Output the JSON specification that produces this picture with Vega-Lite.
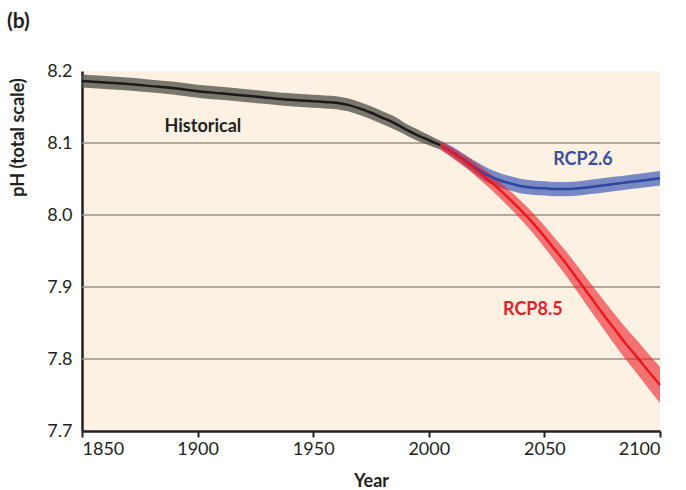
{
  "$schema": "https://vega.github.io/schema/vega-lite/v6.json",
  "autosize": "none",
  "width": 578,
  "height": 360,
  "padding": {"left": 82, "top": 71, "right": 26, "bottom": 59},
  "background": "white",
  "config": {
    "view": {"stroke": null, "fill": "#fdf1e4"},
    "font": "Lato"
  },
  "title": {
    "text": "(b)",
    "anchor": "start",
    "frame": "group",
    "dx": -75,
    "offset": 30,
    "fontSize": 21,
    "fontWeight": "bold",
    "font": "Lato",
    "color": "#231f20"
  },
  "datasets": {
    "ph": [
      {"s": "Historical", "year": 1850, "ph": 8.186, "lo": 8.177, "hi": 8.195},
      {"s": "Historical", "year": 1860, "ph": 8.184, "lo": 8.175, "hi": 8.193},
      {"s": "Historical", "year": 1870, "ph": 8.182, "lo": 8.173, "hi": 8.191},
      {"s": "Historical", "year": 1880, "ph": 8.179, "lo": 8.170, "hi": 8.188},
      {"s": "Historical", "year": 1890, "ph": 8.176, "lo": 8.167, "hi": 8.185},
      {"s": "Historical", "year": 1900, "ph": 8.172, "lo": 8.163, "hi": 8.181},
      {"s": "Historical", "year": 1910, "ph": 8.169, "lo": 8.160, "hi": 8.178},
      {"s": "Historical", "year": 1920, "ph": 8.166, "lo": 8.157, "hi": 8.175},
      {"s": "Historical", "year": 1930, "ph": 8.163, "lo": 8.154, "hi": 8.172},
      {"s": "Historical", "year": 1940, "ph": 8.160, "lo": 8.151, "hi": 8.169},
      {"s": "Historical", "year": 1950, "ph": 8.158, "lo": 8.149, "hi": 8.167},
      {"s": "Historical", "year": 1955, "ph": 8.157, "lo": 8.148, "hi": 8.166},
      {"s": "Historical", "year": 1960, "ph": 8.156, "lo": 8.147, "hi": 8.165},
      {"s": "Historical", "year": 1965, "ph": 8.153, "lo": 8.144, "hi": 8.162},
      {"s": "Historical", "year": 1970, "ph": 8.148, "lo": 8.139, "hi": 8.157},
      {"s": "Historical", "year": 1975, "ph": 8.142, "lo": 8.133, "hi": 8.151},
      {"s": "Historical", "year": 1980, "ph": 8.135, "lo": 8.126, "hi": 8.144},
      {"s": "Historical", "year": 1985, "ph": 8.128, "lo": 8.119, "hi": 8.137},
      {"s": "Historical", "year": 1990, "ph": 8.119, "lo": 8.111, "hi": 8.127},
      {"s": "Historical", "year": 1995, "ph": 8.111, "lo": 8.103, "hi": 8.119},
      {"s": "Historical", "year": 2000, "ph": 8.104, "lo": 8.097, "hi": 8.111},
      {"s": "Historical", "year": 2005, "ph": 8.097, "lo": 8.091, "hi": 8.103},
      {"s": "RCP2.6", "year": 2005, "ph": 8.097, "lo": 8.091, "hi": 8.103},
      {"s": "RCP2.6", "year": 2010, "ph": 8.088, "lo": 8.081, "hi": 8.095},
      {"s": "RCP2.6", "year": 2015, "ph": 8.077, "lo": 8.069, "hi": 8.085},
      {"s": "RCP2.6", "year": 2020, "ph": 8.066, "lo": 8.057, "hi": 8.075},
      {"s": "RCP2.6", "year": 2025, "ph": 8.056, "lo": 8.046, "hi": 8.066},
      {"s": "RCP2.6", "year": 2030, "ph": 8.049, "lo": 8.039, "hi": 8.059},
      {"s": "RCP2.6", "year": 2035, "ph": 8.044, "lo": 8.034, "hi": 8.054},
      {"s": "RCP2.6", "year": 2040, "ph": 8.040, "lo": 8.030, "hi": 8.050},
      {"s": "RCP2.6", "year": 2045, "ph": 8.038, "lo": 8.028, "hi": 8.048},
      {"s": "RCP2.6", "year": 2050, "ph": 8.037, "lo": 8.027, "hi": 8.047},
      {"s": "RCP2.6", "year": 2055, "ph": 8.036, "lo": 8.026, "hi": 8.046},
      {"s": "RCP2.6", "year": 2060, "ph": 8.036, "lo": 8.026, "hi": 8.046},
      {"s": "RCP2.6", "year": 2065, "ph": 8.037, "lo": 8.027, "hi": 8.047},
      {"s": "RCP2.6", "year": 2070, "ph": 8.039, "lo": 8.029, "hi": 8.049},
      {"s": "RCP2.6", "year": 2075, "ph": 8.041, "lo": 8.031, "hi": 8.051},
      {"s": "RCP2.6", "year": 2080, "ph": 8.043, "lo": 8.033, "hi": 8.053},
      {"s": "RCP2.6", "year": 2085, "ph": 8.045, "lo": 8.035, "hi": 8.055},
      {"s": "RCP2.6", "year": 2090, "ph": 8.047, "lo": 8.037, "hi": 8.057},
      {"s": "RCP2.6", "year": 2095, "ph": 8.049, "lo": 8.039, "hi": 8.059},
      {"s": "RCP2.6", "year": 2100, "ph": 8.051, "lo": 8.041, "hi": 8.061},
      {"s": "RCP8.5", "year": 2005, "ph": 8.097, "lo": 8.091, "hi": 8.103},
      {"s": "RCP8.5", "year": 2010, "ph": 8.087, "lo": 8.080, "hi": 8.094},
      {"s": "RCP8.5", "year": 2015, "ph": 8.076, "lo": 8.068, "hi": 8.084},
      {"s": "RCP8.5", "year": 2020, "ph": 8.064, "lo": 8.055, "hi": 8.073},
      {"s": "RCP8.5", "year": 2025, "ph": 8.051, "lo": 8.041, "hi": 8.061},
      {"s": "RCP8.5", "year": 2030, "ph": 8.037, "lo": 8.026, "hi": 8.048},
      {"s": "RCP8.5", "year": 2035, "ph": 8.022, "lo": 8.010, "hi": 8.034},
      {"s": "RCP8.5", "year": 2040, "ph": 8.006, "lo": 7.993, "hi": 8.019},
      {"s": "RCP8.5", "year": 2045, "ph": 7.989, "lo": 7.975, "hi": 8.003},
      {"s": "RCP8.5", "year": 2050, "ph": 7.970, "lo": 7.955, "hi": 7.985},
      {"s": "RCP8.5", "year": 2055, "ph": 7.950, "lo": 7.934, "hi": 7.966},
      {"s": "RCP8.5", "year": 2060, "ph": 7.930, "lo": 7.913, "hi": 7.947},
      {"s": "RCP8.5", "year": 2065, "ph": 7.908, "lo": 7.890, "hi": 7.926},
      {"s": "RCP8.5", "year": 2070, "ph": 7.886, "lo": 7.867, "hi": 7.905},
      {"s": "RCP8.5", "year": 2075, "ph": 7.864, "lo": 7.844, "hi": 7.884},
      {"s": "RCP8.5", "year": 2080, "ph": 7.843, "lo": 7.822, "hi": 7.864},
      {"s": "RCP8.5", "year": 2085, "ph": 7.822, "lo": 7.800, "hi": 7.844},
      {"s": "RCP8.5", "year": 2090, "ph": 7.803, "lo": 7.780, "hi": 7.826},
      {"s": "RCP8.5", "year": 2095, "ph": 7.783, "lo": 7.759, "hi": 7.807},
      {"s": "RCP8.5", "year": 2100, "ph": 7.764, "lo": 7.739, "hi": 7.789}
    ],
    "grid": [{"g": 7.8}, {"g": 7.9}, {"g": 8.0}, {"g": 8.1}],
    "labels": [
      {"s": "Historical", "year": 1902.3, "ph": 8.122},
      {"s": "RCP2.6", "year": 2066.7, "ph": 8.076},
      {"s": "RCP8.5", "year": 2045, "ph": 7.868}
    ]
  },
  "layer": [
    {
      "data": {"name": "grid"},
      "mark": {"type": "rule", "color": "#9e8f7d", "strokeWidth": 1.5},
      "encoding": {
        "y": {"field": "g", "type": "quantitative", "scale": {"domain": [7.7, 8.2], "nice": false, "zero": false},
          "axis": {
            "values": [7.7, 7.8, 7.9, 8.0, 8.1, 8.2],
            "format": ".1f",
            "title": "pH (total scale)",
            "grid": false,
            "ticks": false,
            "domainColor": "#231f20",
            "domainWidth": 2.5,
            "labelFont": "Lato",
            "labelFontSize": 18,
            "labelColor": "#231f20",
            "labelPadding": 10,
            "labelDy": 2,
            "titleFont": "Lato",
            "titleFontSize": 18,
            "titleFontWeight": "bold",
            "titleColor": "#231f20",
            "titleX": -64,
            "titleY": 66,
            "titleAngle": -90,
            "titleAlign": "center",
            "titleBaseline": "middle"
          }
        }
      }
    },
    {
      "data": {"name": "ph"},
      "mark": {"type": "area", "interpolate": "monotone"},
      "encoding": {
        "x": {"field": "year", "type": "quantitative", "scale": {"domain": [1850, 2100], "nice": false, "zero": false},
          "axis": {
            "values": [1850, 1900, 1950, 2000, 2050, 2100],
            "format": "d",
            "title": "Year",
            "grid": false,
            "domainColor": "#231f20",
            "domainWidth": 2.5,
            "tickColor": "#231f20",
            "tickSize": 6,
            "tickWidth": 2,
            "labelFont": "Lato",
            "labelFontSize": 18,
            "labelColor": "#231f20",
            "labelPadding": 3,
            "labelDx": 5,
            "titleFont": "Lato",
            "titleFontSize": 18,
            "titleFontWeight": "bold",
            "titleColor": "#231f20",
            "titlePadding": 14
          }
        },
        "y": {"field": "lo", "type": "quantitative"},
        "y2": {"field": "hi"},
        "color": {"field": "s", "type": "nominal", "legend": null,
          "scale": {"domain": ["Historical", "RCP2.6", "RCP8.5"], "range": ["#55534a", "#3d5ab8", "#ec2028"]}},
        "opacity": {"field": "s", "type": "nominal", "legend": null,
          "scale": {"domain": ["Historical", "RCP2.6", "RCP8.5"], "range": [0.78, 0.6, 0.5]}}
      }
    },
    {
      "data": {"name": "ph"},
      "mark": {"type": "line", "strokeWidth": 2.5, "interpolate": "monotone"},
      "encoding": {
        "x": {"field": "year", "type": "quantitative"},
        "y": {"field": "ph", "type": "quantitative"},
        "color": {"field": "s", "type": "nominal", "legend": null,
          "scale": {"domain": ["Historical", "RCP2.6", "RCP8.5"], "range": ["#1a1a1a", "#2e47a0", "#e8191f"]}}
      }
    },
    {
      "data": {"name": "labels"},
      "mark": {"type": "text", "font": "Lato", "fontSize": 18, "fontWeight": "bold", "align": "center", "baseline": "middle"},
      "encoding": {
        "x": {"field": "year", "type": "quantitative"},
        "y": {"field": "ph", "type": "quantitative"},
        "text": {"field": "s"},
        "color": {"field": "s", "type": "nominal", "legend": null,
          "scale": {"domain": ["Historical", "RCP2.6", "RCP8.5"], "range": ["#231f20", "#3b4fa0", "#e8202a"]}}
      }
    }
  ],
  "resolve": {"scale": {"color": "independent", "opacity": "independent"}}
}
